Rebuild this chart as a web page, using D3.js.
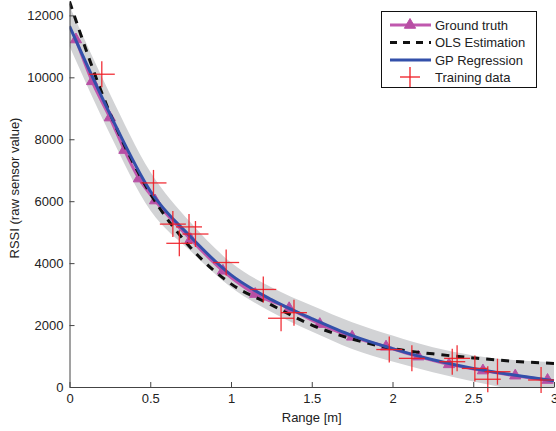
<!DOCTYPE html>
<html lang="en">
<head>
    <meta charset="UTF-8">
    <title>RSSI vs Range</title>
    <script src="https://cdn.jsdelivr.net/npm/d3@7/dist/d3.min.js"></script>
    <style>
        body { margin: 0; background: #fff; }
        text { font-family: "Liberation Sans", Arial, Helvetica, sans-serif; fill: #222; }
        .axis text { font-size: 13px; }
        .axis path, .axis line { stroke: #444; }
        .label { font-size: 13px; }
        .legend-text { font-size: 13px; }
    </style>
</head>
<body>
    <svg width="556" height="431" id="chart"></svg>
    <script>
        // tick labels
        const rangeTicks = [0, 0.5, 1, 1.5, 2, 2.5, 3];
        const rssiTicks = [0, 2000, 4000, 6000, 8000, 10000, 12000];

        // ground truth (triangle markers)
        const truthRange = [0.04, 0.14, 0.25, 0.34, 0.43, 0.53, 0.75, 0.95, 1.15, 1.36, 1.55, 1.75, 1.96, 2.16, 2.35, 2.56, 2.76, 2.96];
        const truthRssi  = [11220, 9870, 8700, 7650, 6730, 6020, 4770, 3750, 3000, 2540, 2030, 1620, 1300, 980, 730, 530, 365, 225];

        // OLS estimation (dashed)
        const olsRange = [0, 0.25, 0.5, 0.75, 1, 1.25, 1.5, 1.75, 2, 2.25, 2.5, 2.75, 3];
        const olsRssi  = [12450, 8850, 6250, 4500, 3330, 2650, 2000, 1550, 1240, 1070, 940, 830, 760];

        // GP regression mean and std
        const gpRange = [0, 0.25, 0.5, 0.75, 1, 1.25, 1.5, 1.75, 2, 2.25, 2.5, 2.75, 3];
        const gpRssi  = [11650, 8820, 6330, 4850, 3620, 2820, 2210, 1660, 1240, 880, 600, 390, 200];
        const gpStd   = [650, 650, 620, 460, 400, 400, 420, 430, 420, 400, 420, 480, 600];

        // training data (red crosses)
        const trainRange = [0.20, 0.52, 0.64, 0.68, 0.74, 0.78, 0.97, 1.20, 1.31, 1.39, 1.98, 2.12, 2.37, 2.40, 2.51, 2.59, 2.65, 2.92];
        const trainRssi  = [10100, 6590, 5260, 4640, 5170, 4940, 4020, 3150, 2220, 2400, 1210, 925, 817, 925, 600, 250, 494, 226];

        const svg = d3.select("#chart"),
              x0 = 69.5, x1 = 554, yBottom = 387, yTop = 3;

        const xScale = d3.scaleLinear().domain([0, 3]).range([x0, x1]);
        const yScale = d3.scaleLinear().domain([0, 12400]).range([yBottom, yTop]);

        svg.append("clipPath").attr("id", "plot-clip")
            .append("rect")
            .attr("x", x0).attr("y", 0)
            .attr("width", x1 - x0).attr("height", yBottom);

        const plot = svg.append("g").attr("clip-path", "url(#plot-clip)");

        const gpData = gpRange.map((r, i) => ({r: r, v: gpRssi[i], s: gpStd[i]}));

        // confidence band
        plot.append("path")
            .datum(gpData)
            .attr("fill", "#d2d3d5")
            .attr("d", d3.area()
                .curve(d3.curveMonotoneX)
                .x(d => xScale(d.r))
                .y0(d => yScale(d.v - d.s))
                .y1(d => yScale(d.v + d.s)));

        // ground truth
        const truthData = truthRange.map((r, i) => ({r: r, v: truthRssi[i]}));
        plot.append("path")
            .datum(truthData)
            .attr("fill", "none")
            .attr("stroke", "#c058ae")
            .attr("stroke-width", 3)
            .attr("d", d3.line().curve(d3.curveMonotoneX).x(d => xScale(d.r)).y(d => yScale(d.v)));

        const tri = d3.symbol().type(d3.symbolTriangle).size(55);
        plot.selectAll(".tri")
            .data(truthData)
            .enter().append("path")
            .attr("class", "tri")
            .attr("transform", d => `translate(${xScale(d.r)},${yScale(d.v)})`)
            .attr("d", tri)
            .attr("fill", "#b84ea4")
            .attr("stroke", "#b84ea4")
            .attr("stroke-width", 1);

        // OLS
        const olsData = olsRange.map((r, i) => ({r: r, v: olsRssi[i]}));
        plot.append("path")
            .datum(olsData)
            .attr("fill", "none")
            .attr("stroke", "#111")
            .attr("stroke-width", 3)
            .attr("stroke-dasharray", "8,7")
            .attr("d", d3.line().curve(d3.curveMonotoneX).x(d => xScale(d.r)).y(d => yScale(d.v)));

        // GP mean
        plot.append("path")
            .datum(gpData)
            .attr("fill", "none")
            .attr("stroke", "#3350aa")
            .attr("stroke-width", 3)
            .attr("d", d3.line().curve(d3.curveMonotoneX).x(d => xScale(d.r)).y(d => yScale(d.v)));

        // training crosses
        const arm = 13;
        const crosses = svg.selectAll(".cross")
            .data(trainRange.map((r, i) => ({r: r, v: trainRssi[i]})))
            .enter().append("g")
            .attr("class", "cross")
            .attr("transform", d => `translate(${xScale(d.r)},${yScale(d.v)})`);
        crosses.append("line").attr("x1", -arm).attr("x2", arm).attr("y1", 0).attr("y2", 0);
        crosses.append("line").attr("x1", 0).attr("x2", 0).attr("y1", -arm).attr("y2", arm);
        crosses.selectAll("line").attr("stroke", "#f01c24").attr("stroke-width", 1.3).attr("opacity", 0.9);

        // axes
        svg.append("g")
            .attr("class", "axis")
            .attr("transform", `translate(0,${yBottom})`)
            .call(d3.axisBottom(xScale).tickValues(rangeTicks).tickFormat(d3.format("")).tickSizeInner(-5).tickSizeOuter(0).tickPadding(7));

        svg.append("g")
            .attr("class", "axis")
            .attr("transform", `translate(${x0},0)`)
            .call(d3.axisLeft(yScale).tickValues(rssiTicks).tickFormat(d3.format("")).tickSizeInner(-5).tickSizeOuter(0).tickPadding(6));

        svg.selectAll(".axis text").attr("fill", "#222");

        svg.append("text")
            .attr("class", "label")
            .attr("x", (x0 + x1) / 2)
            .attr("y", 422)
            .attr("text-anchor", "middle")
            .text("Range [m]");

        svg.append("text")
            .attr("class", "label")
            .attr("transform", "translate(19,188) rotate(-90)")
            .attr("text-anchor", "middle")
            .text("RSSI (raw sensor value)");

        // legend
        const legendNames = ["Ground truth", "OLS Estimation", "GP Regression", "Training data"];
        const lg = svg.append("g");
        lg.append("rect")
            .attr("x", 381.5).attr("y", 11.5)
            .attr("width", 155).attr("height", 76)
            .attr("fill", "#fff").attr("stroke", "#111").attr("stroke-width", 1);

        const rowY = [25, 42.5, 60, 77];
        const rows = lg.selectAll(".legend")
            .data(legendNames)
            .enter().append("g")
            .attr("class", "legend")
            .attr("transform", (d, i) => `translate(0,${rowY[i]})`);

        rows.append("text")
            .attr("class", "legend-text")
            .attr("x", 435)
            .attr("y", 0)
            .attr("dy", "0.35em")
            .text(d => d);

        const lx0 = 390, lx1 = 431, lmid = 410;
        rows.filter((d, i) => i === 0).append("line")
            .attr("x1", lx0).attr("x2", lx1).attr("stroke", "#c058ae").attr("stroke-width", 3);
        rows.filter((d, i) => i === 0).append("path")
            .attr("transform", `translate(${lmid},0)`)
            .attr("d", tri).attr("fill", "#b84ea4").attr("stroke", "#b84ea4");
        rows.filter((d, i) => i === 1).append("line")
            .attr("x1", lx0).attr("x2", lx1).attr("stroke", "#111").attr("stroke-width", 3)
            .attr("stroke-dasharray", "7,6");
        rows.filter((d, i) => i === 2).append("line")
            .attr("x1", lx0).attr("x2", lx1).attr("stroke", "#3350aa").attr("stroke-width", 3);
        const tr = rows.filter((d, i) => i === 3);
        tr.append("line").attr("x1", lmid - 10).attr("x2", lmid + 10).attr("y1", 0).attr("y2", 0);
        tr.append("line").attr("x1", lmid).attr("x2", lmid).attr("y1", -10).attr("y2", 10);
        tr.selectAll("line").attr("stroke", "#f01c24").attr("stroke-width", 1.3);
    </script>
</body>
</html>
